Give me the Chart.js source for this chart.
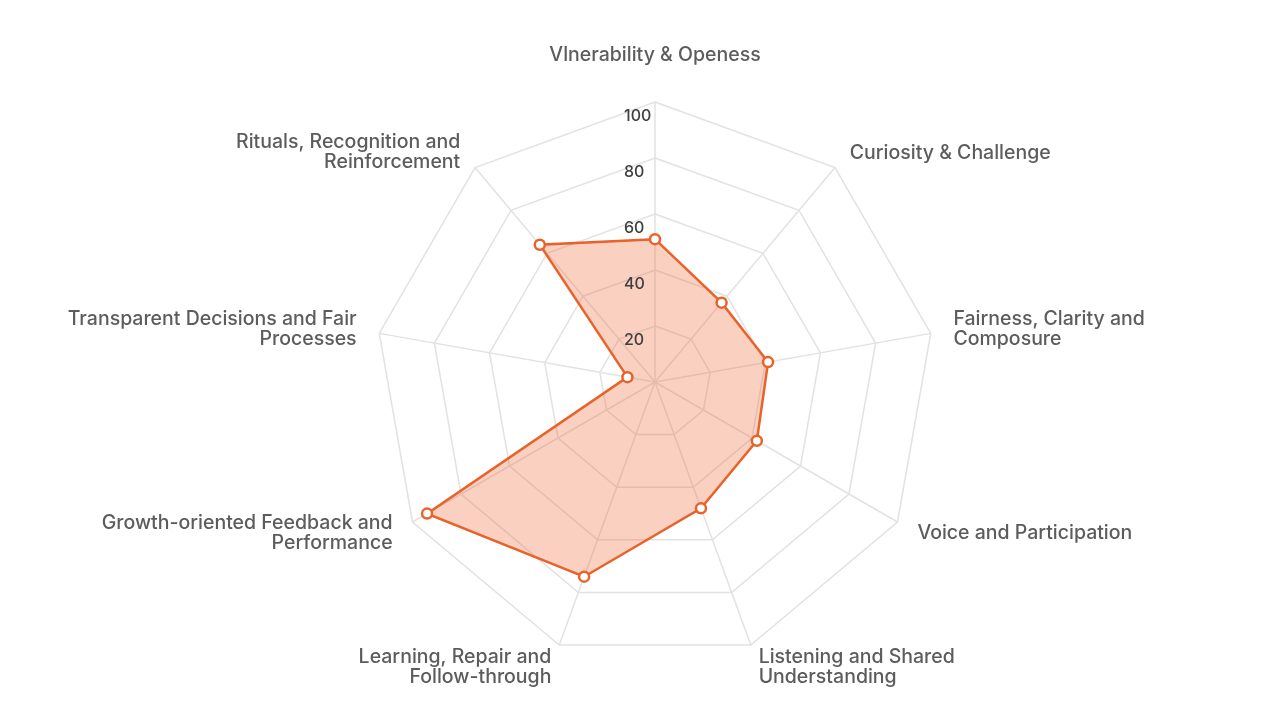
<!DOCTYPE html>
<html>
<head>
<meta charset="utf-8">
<script src="https://cdn.jsdelivr.net/npm/chart.js@4/dist/chart.umd.min.js"></script>
<style>
  html, body { margin: 0; padding: 0; background: #fff; }
  #wrap { width: 1280px; height: 720px; }
</style>
</head>
<body>
<div id="wrap"><canvas id="radar" width="1280" height="720"></canvas></div>
<script>
const categories = [
  "Vlnerability & Openess",
  "Curiosity & Challenge",
  ["Fairness, Clarity and", "Composure"],
  "Voice and Participation",
  ["Listening and Shared", "Understanding"],
  ["Learning, Repair and", "Follow-through"],
  ["Growth-oriented Feedback and", "Performance"],
  ["Transparent Decisions and Fair", "Processes"],
  ["Rituals, Recognition and", "Reinforcement"]
];
const scores = [51, 37, 41, 42, 48, 74, 94, 10, 64];
const tickValues = [20, 40, 60, 80, 100];

const FONT = "Inter, 'Noto Sans', sans-serif";

/* axis labels and tick labels drawn from the scale geometry */
const labelPlugin = {
  id: "radarText",
  afterDraw(chart, args, opts) {
    const s = chart.scales.r;
    const ctx = chart.ctx;
    ctx.save();

    // tick numbers, left of the vertical axis, just under each ring
    ctx.font = "500 16px " + FONT;
    ctx.fillStyle = "#404040";
    ctx.textAlign = "left";
    ctx.textBaseline = "middle";
    tickValues.forEach(v => {
      const d = s.getDistanceFromCenterForValue(v);
      ctx.fillText(String(v), s.xCenter - 31, s.yCenter - d + 14.5);
    });

    // category labels
    ctx.font = "500 19.5px " + FONT;
    ctx.fillStyle = "#5c5c5c";
    ctx.textBaseline = "middle";
    categories.forEach((lab, i) => {
      const p = s.getPointPosition(i, s.drawingArea + opts.gap);
      const lines = Array.isArray(lab) ? lab : [lab];
      const dx = p.x - s.xCenter;
      const align = Math.abs(dx) < 1 ? "center" : (dx > 0 ? "left" : "right");
      const dy = (opts.shiftY[i] || 0);
      ctx.textAlign = align;
      lines.forEach((t, k) => {
        const y = p.y + (k - (lines.length - 1) / 2) * opts.lineHeight + dy;
        ctx.fillText(t, p.x, y);
      });
    });
    ctx.restore();
  }
};

new Chart(document.getElementById("radar"), {
  type: "radar",
  data: {
    labels: categories,
    datasets: [{
      data: scores,
      borderColor: "#e8622a",
      backgroundColor: "rgba(240,110,60,0.32)",
      borderWidth: 2.5,
      pointRadius: 5,
      pointBorderWidth: 2.5,
      pointBackgroundColor: "#ffffff",
      pointBorderColor: "#e8622a",
      fill: true
    }]
  },
  options: {
    responsive: false,
    animation: false,
    layout: { padding: { left: 30, right: 0, top: 102, bottom: 58 } },
    plugins: {
      legend: { display: false },
      tooltip: { enabled: false },
      radarText: {
        gap: 23,
        lineHeight: 20,
        shiftY: [-24, 3, 0, 0, 0, 0, 0, 0, 2]
      }
    },
    scales: {
      r: {
        min: 0,
        max: 100,
        ticks: { display: false, stepSize: 20 },
        pointLabels: { display: false },
        grid: { color: "#e2e2e2", lineWidth: 1.5 },
        angleLines: { color: "#e2e2e2", lineWidth: 1.5 }
      }
    }
  },
  plugins: [labelPlugin]
});
</script>
</body>
</html>
